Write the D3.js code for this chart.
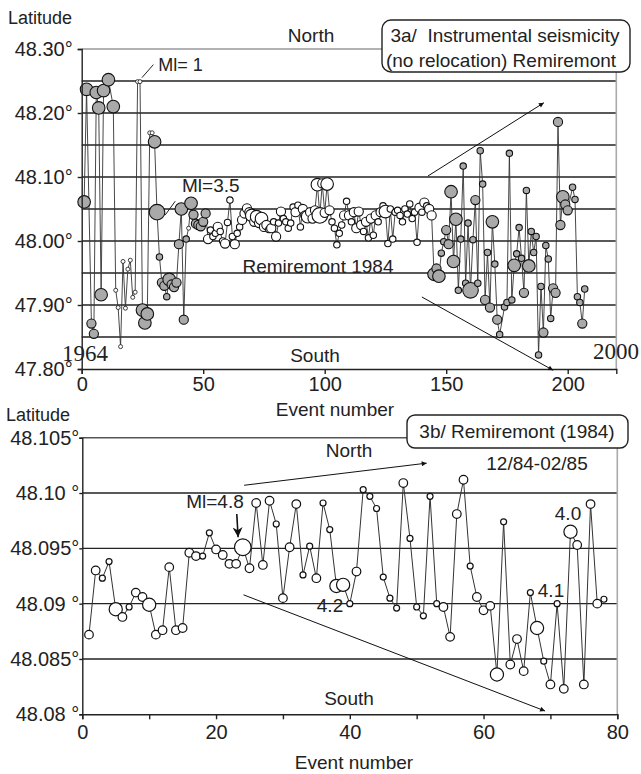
<!DOCTYPE html>
<html>
<head>
<meta charset="utf-8">
<script src="https://cdn.jsdelivr.net/npm/d3@7"></script>
<style>
  body { margin: 0; background: #fff; }
  svg text { font-family: "Liberation Sans", Arial, sans-serif; fill: #222; }
</style>
</head>
<body>
<svg id="chart" width="641" height="774"></svg>
<script>
// ---- data: 3a, instrumental seismicity (event number, latitude, size class, group) ----
// group "g" = grey symbol, "w" = white symbol
const topQuakes = [
  [1, 48.061, 4, "g"], [2, 48.237, 4, "g"], [4, 47.871, 3, "g"], [5, 47.855, 3, "g"],
  [6, 48.232, 4, "g"], [7, 48.208, 4, "g"], [8, 47.916, 4, "g"], [9, 48.235, 4, "g"],
  [11, 48.252, 4, "g"], [13, 48.210, 4, "g"], [14, 47.923, 1, "w"], [15, 47.896, 1, "w"],
  [16, 47.835, 1, "w"], [17, 47.968, 1, "w"], [18, 47.895, 1, "w"], [19, 47.956, 1, "w"],
  [20, 47.970, 1, "w"], [21, 47.912, 1, "w"], [22, 47.920, 1, "w"], [23, 48.249, 1, "w"],
  [24, 48.249, 1, "w"], [25, 47.892, 4, "g"], [26, 47.872, 4, "g"], [27, 47.886, 4, "g"],
  [28, 48.169, 1, "w"], [29, 48.169, 1, "w"], [30, 48.155, 4, "g"], [31, 48.045, 5, "g"],
  [32, 47.975, 2, "g"], [33, 47.935, 3, "g"], [34, 47.930, 3, "g"], [35, 47.913, 2, "g"],
  [36, 47.940, 4, "g"], [37, 47.932, 3, "g"], [38, 47.928, 3, "g"], [39, 47.935, 3, "g"],
  [40, 47.995, 3, "g"], [41, 48.050, 4, "g"], [42, 47.877, 3, "g"], [43, 48.003, 2, "g"],
  [44, 48.020, 1, "w"], [45, 48.059, 4, "g"], [46, 48.041, 3, "g"], [47, 48.027, 3, "g"],
  [48, 48.025, 3, "g"], [49, 48.023, 3, "g"], [50, 48.030, 3, "g"], [51, 48.043, 3, "g"],
  [52, 48.003, 3, "w"], [53, 48.017, 2, "w"], [54, 48.007, 2, "w"], [55, 48.012, 2, "w"],
  [56, 48.022, 3, "w"], [57, 48.015, 2, "w"], [58, 48.000, 2, "w"], [59, 47.996, 3, "w"],
  [60, 48.029, 2, "w"], [61, 48.064, 2, "w"], [62, 48.007, 2, "w"], [63, 47.995, 3, "w"],
  [64, 48.012, 2, "w"], [65, 48.022, 2, "w"], [66, 48.033, 3, "w"], [67, 48.043, 3, "w"],
  [68, 48.051, 3, "w"], [69, 48.045, 3, "w"], [70, 48.040, 4, "w"], [71, 48.030, 3, "w"],
  [72, 48.038, 4, "w"], [73, 48.028, 3, "w"], [74, 48.035, 4, "w"], [75, 48.022, 3, "w"],
  [76, 48.025, 3, "w"], [77, 48.018, 2, "w"], [78, 48.020, 3, "w"], [79, 48.030, 2, "w"],
  [80, 48.007, 3, "w"], [81, 48.028, 2, "w"], [82, 48.046, 3, "w"], [83, 48.035, 2, "w"],
  [84, 48.030, 2, "w"], [85, 48.020, 2, "w"], [86, 48.028, 2, "w"], [87, 48.053, 2, "w"],
  [88, 48.045, 3, "w"], [89, 48.056, 2, "w"], [90, 48.022, 2, "w"], [91, 48.050, 3, "w"],
  [92, 48.040, 3, "w"], [93, 48.038, 4, "w"], [94, 48.045, 3, "w"], [95, 48.035, 3, "w"],
  [96, 48.048, 3, "w"], [97, 48.088, 4, "w"], [98, 48.040, 5, "w"], [99, 48.090, 3, "w"],
  [100, 48.044, 3, "w"], [101, 48.089, 4, "w"], [102, 48.048, 3, "w"], [103, 48.030, 2, "w"],
  [104, 48.020, 2, "w"], [105, 47.994, 2, "w"], [106, 48.012, 2, "w"], [107, 48.025, 2, "w"],
  [108, 48.040, 3, "w"], [109, 48.062, 2, "w"], [110, 48.040, 3, "w"], [111, 48.030, 2, "w"],
  [112, 48.045, 3, "w"], [113, 48.020, 3, "w"], [114, 48.046, 3, "w"], [115, 48.025, 3, "w"],
  [116, 48.015, 2, "w"], [117, 48.030, 3, "w"], [118, 48.005, 2, "w"], [119, 48.035, 3, "w"],
  [120, 48.009, 2, "w"], [121, 48.040, 3, "w"], [122, 48.030, 2, "w"], [123, 48.045, 3, "w"],
  [124, 48.055, 2, "w"], [125, 48.046, 4, "w"], [126, 47.996, 2, "w"], [127, 48.050, 2, "w"],
  [128, 48.003, 2, "w"], [129, 48.045, 2, "w"], [130, 48.048, 2, "w"], [131, 48.040, 2, "w"],
  [132, 48.030, 2, "w"], [133, 48.050, 2, "w"], [134, 48.042, 2, "w"], [135, 48.058, 2, "w"],
  [136, 48.035, 2, "w"], [137, 48.045, 2, "w"], [138, 47.998, 2, "w"], [139, 48.052, 3, "w"],
  [140, 48.045, 2, "w"], [141, 48.060, 3, "w"], [142, 48.055, 2, "w"], [143, 48.050, 3, "w"],
  [144, 48.040, 3, "w"], [145, 47.948, 4, "g"], [146, 47.957, 3, "g"], [147, 47.945, 4, "g"],
  [148, 47.981, 2, "g"], [149, 47.999, 2, "g"], [150, 48.017, 3, "g"], [151, 47.995, 3, "g"],
  [152, 48.077, 4, "g"], [153, 47.968, 4, "g"], [154, 48.034, 4, "g"], [155, 47.923, 2, "g"],
  [156, 48.003, 2, "g"], [157, 48.117, 2, "g"], [158, 47.934, 2, "g"], [159, 48.028, 2, "g"],
  [160, 47.923, 5, "g"], [161, 48.002, 2, "g"], [162, 48.064, 3, "g"], [163, 47.934, 2, "g"],
  [164, 48.141, 2, "g"], [165, 48.089, 2, "g"], [166, 47.908, 3, "g"], [167, 47.982, 2, "g"],
  [168, 47.896, 3, "g"], [169, 48.030, 4, "g"], [170, 47.964, 2, "g"], [171, 47.877, 3, "g"],
  [172, 47.854, 2, "g"], [174, 47.897, 2, "g"], [175, 47.904, 2, "g"], [176, 48.137, 2, "g"],
  [177, 47.908, 2, "g"], [178, 47.962, 4, "g"], [179, 47.980, 2, "g"], [180, 48.021, 2, "g"],
  [181, 47.973, 2, "g"], [182, 47.919, 3, "g"], [183, 48.079, 2, "g"], [184, 47.961, 4, "g"],
  [185, 48.015, 2, "g"], [186, 47.982, 2, "g"], [187, 48.007, 2, "g"], [188, 47.822, 2, "g"],
  [189, 47.929, 2, "g"], [190, 47.857, 3, "g"], [191, 47.993, 2, "g"], [192, 47.972, 2, "g"],
  [193, 47.879, 2, "g"], [194, 47.926, 3, "g"], [195, 47.919, 3, "g"], [196, 48.186, 3, "g"],
  [197, 48.025, 3, "g"], [198, 48.069, 4, "g"], [199, 48.057, 3, "g"], [200, 48.048, 3, "g"],
  [202, 48.084, 2, "g"], [203, 48.065, 2, "g"], [204, 47.913, 2, "g"], [205, 47.904, 2, "g"],
  [206, 47.871, 3, "g"], [207, 47.925, 2, "g"]
];

// ---- data: 3b, Remiremont 1984 sequence (event number, latitude, size class) ----
const bottomQuakes = [
  [1, 48.0872, 2], [2, 48.0930, 2], [3, 48.0923, 1], [4, 48.0938, 1], [5, 48.0895, 3],
  [6, 48.0888, 2], [7, 48.0897, 1], [8, 48.0910, 2], [9, 48.0906, 2], [10, 48.0899, 3],
  [11, 48.0872, 2], [12, 48.0876, 2], [13, 48.0933, 2], [14, 48.0876, 2], [15, 48.0878, 2],
  [16, 48.0946, 2], [17, 48.0943, 2], [18, 48.0943, 1], [19, 48.0964, 1], [20, 48.0949, 2],
  [21, 48.0944, 2], [22, 48.0936, 2], [23, 48.0936, 2], [24, 48.0951, 4], [25, 48.0932, 2],
  [26, 48.0991, 2], [27, 48.0935, 2], [28, 48.0993, 2], [29, 48.0972, 1], [30, 48.0905, 2],
  [31, 48.0951, 2], [32, 48.0990, 2], [33, 48.0926, 1], [34, 48.0952, 1], [35, 48.0923, 2],
  [36, 48.0991, 1], [37, 48.0967, 1], [38, 48.0916, 3], [39, 48.0917, 3], [40, 48.0900, 1],
  [41, 48.0929, 2], [42, 48.1003, 1], [43, 48.0997, 1], [44, 48.0986, 1], [45, 48.0924, 1],
  [46, 48.0905, 1], [47, 48.0896, 1], [48, 48.1009, 2], [49, 48.0959, 1], [50, 48.0897, 1],
  [51, 48.0889, 1], [52, 48.0997, 1], [53, 48.0900, 1], [54, 48.0897, 2], [55, 48.0870, 2],
  [56, 48.0981, 2], [57, 48.1012, 2], [58, 48.0934, 1], [59, 48.0906, 2], [60, 48.0894, 2],
  [61, 48.0898, 2], [62, 48.0836, 3], [63, 48.0974, 1], [64, 48.0845, 2], [65, 48.0868, 2],
  [66, 48.0839, 2], [67, 48.0910, 1], [68, 48.0878, 3], [69, 48.0848, 1], [70, 48.0827, 2],
  [71, 48.0900, 1], [72, 48.0823, 2], [73, 48.0965, 3], [74, 48.0953, 2], [75, 48.0827, 2],
  [76, 48.0990, 2], [77, 48.0900, 2], [78, 48.0904, 1]
];

const topLatTicks = [47.8, 47.9, 48.0, 48.1, 48.2, 48.3];
const topGridLats = [47.85, 47.9, 47.95, 48.0, 48.05, 48.1, 48.15, 48.2, 48.25];
const topEventTicks = [0, 50, 100, 150, 200];

const bottomLatTicks = [48.08, 48.085, 48.09, 48.095, 48.10, 48.105];
const bottomLatLabels = ["48.08 °", "48.085°", "48.09 °", "48.095°", "48.10 °", "48.105°"];
const bottomGridLats = [48.085, 48.09, 48.095, 48.10];
const bottomEventTicks = [0, 20, 40, 60, 80];
const bottomMinorTicks = [10, 30, 50, 70];

const svg = d3.select("#chart");

// arrowheads: thin for the trend arrows, bold for the Ml=4.8 pointer
const defs = svg.append("defs");
defs.append("marker")
  .attr("id", "arrow-thin")
  .attr("viewBox", "0 -5 10 10")
  .attr("refX", 10).attr("refY", 0)
  .attr("markerWidth", 7).attr("markerHeight", 5)
  .attr("markerUnits", "userSpaceOnUse")
  .attr("orient", "auto")
  .append("path")
  .attr("d", "M0,-5L10,0L0,5Z")
  .attr("fill", "#111");
defs.append("marker")
  .attr("id", "arrow-bold")
  .attr("viewBox", "0 -5 10 10")
  .attr("refX", 10).attr("refY", 0)
  .attr("markerWidth", 10).attr("markerHeight", 10)
  .attr("markerUnits", "userSpaceOnUse")
  .attr("orient", "auto")
  .append("path")
  .attr("d", "M0,-5L10,0L0,5L3,0Z")
  .attr("fill", "#111");

// ================= 3a =================
const x1 = d3.scaleLinear().domain([0, 220]).range([81.7, 616.3]);
const y1 = d3.scaleLinear().domain([47.8, 48.3]).range([369, 49]);
const r1 = d3.scaleLinear().domain([1, 2, 3, 4, 5]).range([2, 3.2, 4.6, 6.3, 7.8]);

const g1 = svg.append("g");

g1.selectAll(".grid")
  .data(topGridLats)
  .enter()
  .append("line")
  .attr("x1", x1(0)).attr("x2", x1(220))
  .attr("y1", d => y1(d)).attr("y2", d => y1(d))
  .attr("stroke", "#222").attr("stroke-width", 1.4);

// top and right frame
g1.append("line")
  .attr("x1", x1(0)).attr("x2", x1(220))
  .attr("y1", y1(48.3)).attr("y2", y1(48.3))
  .attr("stroke", "#999").attr("stroke-width", 1.4);
g1.append("line")
  .attr("x1", x1(220)).attr("x2", x1(220))
  .attr("y1", y1(48.3)).attr("y2", y1(47.8))
  .attr("stroke", "#aaa").attr("stroke-width", 1.6);

g1.append("path")
  .datum(topQuakes)
  .attr("fill", "none")
  .attr("stroke", "#333")
  .attr("stroke-width", 0.9)
  .attr("d", d3.line().x(d => x1(d[0])).y(d => y1(d[1])));

g1.selectAll(".q")
  .data(topQuakes)
  .enter()
  .append("circle")
  .attr("cx", d => x1(d[0]))
  .attr("cy", d => y1(d[1]))
  .attr("r", d => r1(d[2]))
  .attr("fill", d => d[3] === "g" ? "#a9a9a9" : "#fff")
  .attr("stroke", "#111")
  .attr("stroke-width", d => d[2] === 1 ? 0.8 : 1.1);

const yAxis1 = g1.append("g")
  .attr("transform", `translate(${x1(0)},0)`)
  .call(d3.axisLeft(y1).tickValues(topLatTicks).tickFormat(d => d.toFixed(2) + "°").tickSize(4).tickPadding(5));
const xAxis1 = g1.append("g")
  .attr("transform", `translate(0,${y1(47.8)})`)
  .call(d3.axisBottom(x1).tickValues(topEventTicks).tickFormat(d3.format("d")).tickSize(5).tickPadding(3));
[yAxis1, xAxis1].forEach(a => {
  a.selectAll("text").style("font-size", "20px").attr("fill", "#222");
  a.selectAll("line, path").attr("stroke", "#222").attr("stroke-width", 1.4);
});

// annotations
g1.append("text").attr("x", 8).attr("y", 24).style("font-size", "18px").text("Latitude");
g1.append("text").attr("x", 311).attr("y", 42).attr("text-anchor", "middle").style("font-size", "19px").text("North");
g1.append("text").attr("x", 315).attr("y", 362).attr("text-anchor", "middle").style("font-size", "19px").text("South");
g1.append("text").attr("x", 318).attr("y", 273).attr("text-anchor", "middle").style("font-size", "19px").text("Remiremont 1984");
g1.append("text").attr("x", 335).attr("y", 416).attr("text-anchor", "middle").style("font-size", "19px").text("Event number");
g1.append("text").attr("x", 62).attr("y", 361).style("font-family", "Liberation Serif, serif").style("font-size", "23px").text("1964");
g1.append("text").attr("x", 593).attr("y", 359).style("font-family", "Liberation Serif, serif").style("font-size", "23px").text("2000");

g1.append("text").attr("x", x1(31.5)).attr("y", y1(48.249) - 11).style("font-size", "18px").text("Ml= 1");
g1.append("line")
  .attr("x1", x1(29.5)).attr("y1", y1(48.249) - 17)
  .attr("x2", x1(24.8)).attr("y2", y1(48.249) - 4)
  .attr("stroke", "#222").attr("stroke-width", 1);
g1.append("text").attr("x", x1(41.3)).attr("y", y1(48.045) - 20).style("font-size", "19px").text("Ml=3.5");
g1.append("line")
  .attr("x1", x1(38.5)).attr("y1", y1(48.045) - 11)
  .attr("x2", x1(34.3)).attr("y2", y1(48.045) + 3)
  .attr("stroke", "#222").attr("stroke-width", 1);

g1.append("line")
  .attr("x1", x1(142.5)).attr("y1", y1(48.1016))
  .attr("x2", x1(190.2)).attr("y2", y1(48.216))
  .attr("stroke", "#111").attr("stroke-width", 1)
  .attr("marker-end", "url(#arrow-thin)");
g1.append("line")
  .attr("x1", x1(140)).attr("y1", y1(47.9125))
  .attr("x2", x1(194)).attr("y2", y1(47.798))
  .attr("stroke", "#111").attr("stroke-width", 1)
  .attr("marker-end", "url(#arrow-thin)");

const box1 = g1.append("g");
box1.append("rect")
  .attr("x", 382).attr("y", 20).attr("width", 248).attr("height", 52).attr("rx", 9)
  .attr("fill", "#fff").attr("stroke", "#222").attr("stroke-width", 1.4);
box1.append("text").attr("x", 505).attr("y", 42).attr("text-anchor", "middle")
  .style("font-size", "19px").style("white-space", "pre").text("3a/  Instrumental seismicity");
box1.append("text").attr("x", 501).attr("y", 67).attr("text-anchor", "middle")
  .style("font-size", "19px").text("(no relocation) Remiremont");

// ================= 3b =================
const x2 = d3.scaleLinear().domain([0, 80]).range([82.3, 617.3]);
const y2 = d3.scaleLinear().domain([48.08, 48.105]).range([714.3, 437.7]);
const r2 = d3.scaleLinear().domain([1, 2, 3, 4]).range([3, 4.3, 6.6, 8.3]);

const g2 = svg.append("g");

g2.selectAll(".grid")
  .data(bottomGridLats)
  .enter()
  .append("line")
  .attr("x1", x2(0)).attr("x2", x2(80))
  .attr("y1", d => y2(d)).attr("y2", d => y2(d))
  .attr("stroke", "#222").attr("stroke-width", 1.4);
g2.append("line")
  .attr("x1", x2(0)).attr("x2", x2(80))
  .attr("y1", y2(48.105)).attr("y2", y2(48.105))
  .attr("stroke", "#555").attr("stroke-width", 1.4);
g2.append("line")
  .attr("x1", x2(80)).attr("x2", x2(80))
  .attr("y1", y2(48.105)).attr("y2", y2(48.08))
  .attr("stroke", "#aaa").attr("stroke-width", 1.6);

g2.append("path")
  .datum(bottomQuakes)
  .attr("fill", "none")
  .attr("stroke", "#333")
  .attr("stroke-width", 1)
  .attr("d", d3.line().x(d => x2(d[0])).y(d => y2(d[1])));

g2.selectAll(".q")
  .data(bottomQuakes)
  .enter()
  .append("circle")
  .attr("cx", d => x2(d[0]))
  .attr("cy", d => y2(d[1]))
  .attr("r", d => r2(d[2]))
  .attr("fill", "#fff")
  .attr("stroke", "#111")
  .attr("stroke-width", 1.2);

const yAxis2 = g2.append("g")
  .attr("transform", `translate(${x2(0)},0)`)
  .call(d3.axisLeft(y2).tickValues(bottomLatTicks).tickFormat((d, i) => bottomLatLabels[i]).tickSize(3).tickPadding(0));
const xAxis2 = g2.append("g")
  .attr("transform", `translate(0,${y2(48.08)})`)
  .call(d3.axisBottom(x2).tickValues(bottomEventTicks).tickFormat(d3.format("d")).tickSize(5).tickPadding(6));
g2.append("g")
  .attr("transform", `translate(0,${y2(48.08)})`)
  .call(d3.axisBottom(x2).tickValues(bottomMinorTicks).tickFormat("").tickSize(5))
  .call(a => a.select(".domain").remove())
  .selectAll("line").attr("stroke", "#222").attr("stroke-width", 1.4);
[yAxis2, xAxis2].forEach(a => {
  a.selectAll("text").style("font-size", "20px").attr("fill", "#222");
  a.selectAll("line, path").attr("stroke", "#222").attr("stroke-width", 1.4);
});

g2.append("text").attr("x", 6).attr("y", 421).style("font-size", "18px").text("Latitude");
g2.append("text").attr("x", 349).attr("y", 457).attr("text-anchor", "middle").style("font-size", "19px").text("North");
g2.append("text").attr("x", 349).attr("y", 705).attr("text-anchor", "middle").style("font-size", "19px").text("South");
g2.append("text").attr("x", 354).attr("y", 769).attr("text-anchor", "middle").style("font-size", "19px").text("Event number");
g2.append("text").attr("x", 537).attr("y", 470).attr("text-anchor", "middle").style("font-size", "19px").text("12/84-02/85");

g2.append("text").attr("x", 215).attr("y", 508).attr("text-anchor", "middle").style("font-size", "19px").text("Ml=4.8");
g2.append("line")
  .attr("x1", x2(23.1)).attr("y1", 514)
  .attr("x2", x2(23.3)).attr("y2", y2(48.0951) - 10)
  .attr("stroke", "#111").attr("stroke-width", 1.6)
  .attr("marker-end", "url(#arrow-bold)");
g2.append("text").attr("x", 330).attr("y", 612).attr("text-anchor", "middle").style("font-size", "19px").text("4.2");
g2.append("text").attr("x", 551).attr("y", 597).attr("text-anchor", "middle").style("font-size", "19px").text("4.1");
g2.append("text").attr("x", 568).attr("y", 520).attr("text-anchor", "middle").style("font-size", "19px").text("4.0");

g2.append("line")
  .attr("x1", x2(24.2)).attr("y1", y2(48.1007))
  .attr("x2", x2(51.5)).attr("y2", y2(48.1027))
  .attr("stroke", "#111").attr("stroke-width", 1)
  .attr("marker-end", "url(#arrow-thin)");
g2.append("line")
  .attr("x1", x2(24.1)).attr("y1", y2(48.0908))
  .attr("x2", x2(69.2)).attr("y2", y2(48.0803))
  .attr("stroke", "#111").attr("stroke-width", 1)
  .attr("marker-end", "url(#arrow-thin)");

const box2 = g2.append("g");
box2.append("rect")
  .attr("x", 407).attr("y", 415).attr("width", 221).attr("height", 33).attr("rx", 8)
  .attr("fill", "#fff").attr("stroke", "#222").attr("stroke-width", 1.4);
box2.append("text").attr("x", 517).attr("y", 438).attr("text-anchor", "middle")
  .style("font-size", "19px").text("3b/ Remiremont (1984)");
</script>
</body>
</html>
